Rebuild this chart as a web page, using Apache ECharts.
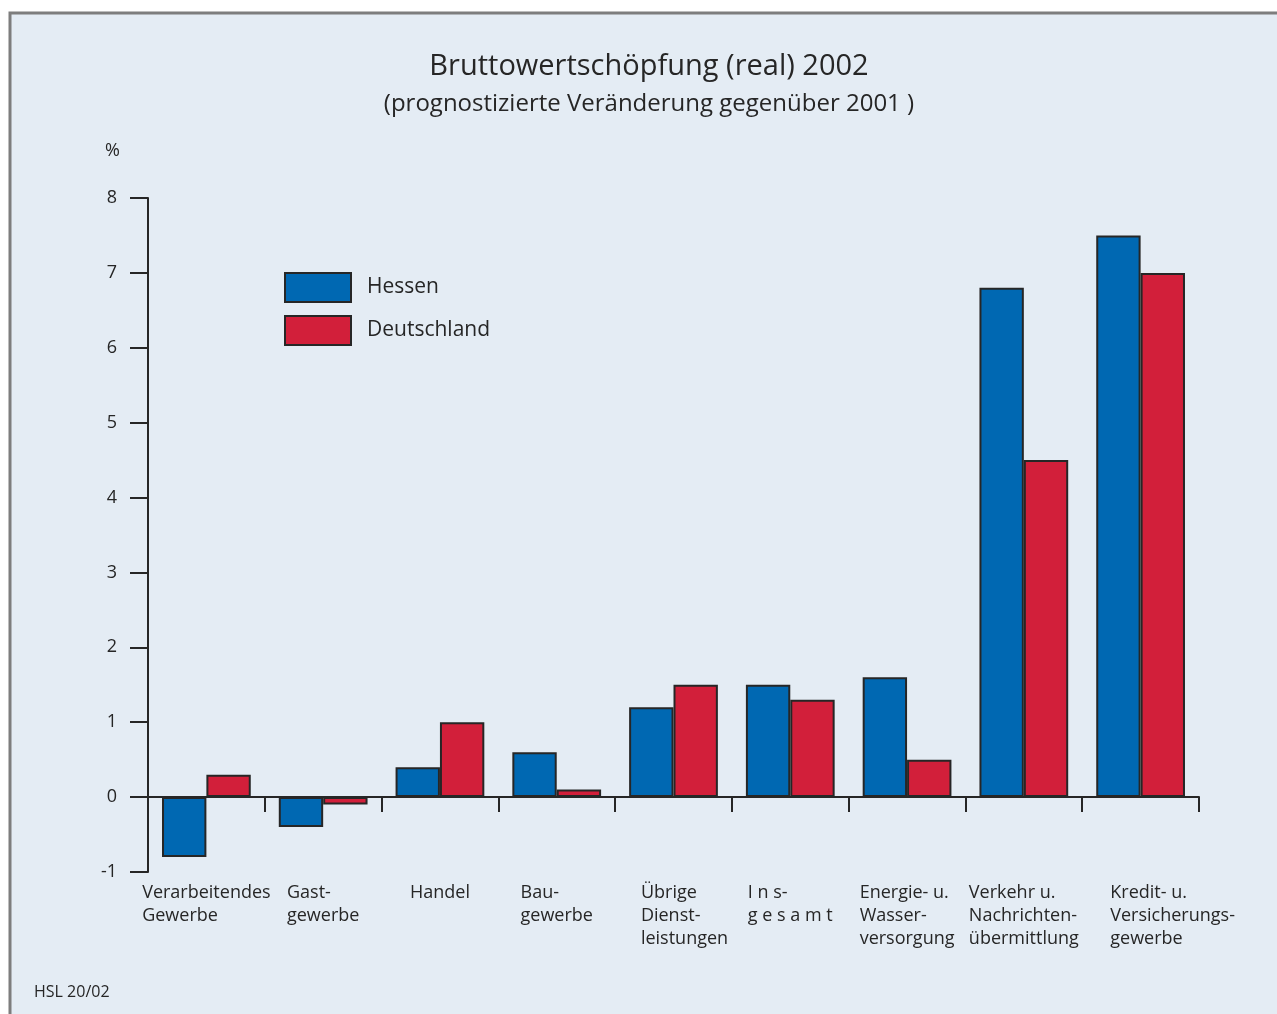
<!DOCTYPE html>
<html>
<head>
<meta charset="utf-8">
<title>Bruttowertschöpfung (real) 2002</title>
<script src="https://cdn.jsdelivr.net/npm/echarts@6/dist/echarts.min.js"></script>
<style>
  html, body { margin: 0; padding: 0; background: #ffffff; }
  #chart { width: 1277px; height: 1014px; }
</style>
</head>
<body>
<div id="chart"></div>
<script>
// Wirtschaftsbereiche (Zeilenumbrüche wie in der Beschriftung)
const categories = [
  'Verarbeitendes\nGewerbe',
  'Gast-\ngewerbe',
  'Handel',
  'Bau-\ngewerbe',
  'Übrige\nDienst-\nleistungen',
  'I n s-\ng e s a m t',
  'Energie- u.\nWasser-\nversorgung',
  'Verkehr u.\nNachrichten-\nübermittlung',
  'Kredit- u.\nVersicherungs-\ngewerbe'
];

// Prognostizierte Veränderung gegenüber 2001 in %
const hessen      = [-0.8, -0.4, 0.4, 0.6, 1.2, 1.5, 1.6, 6.8, 7.5];
const deutschland = [ 0.3, -0.1, 1.0, 0.1, 1.5, 1.3, 0.5, 4.5, 7.0];

const seriesNames = ['Hessen', 'Deutschland'];
const yTicks = { min: -1, max: 8, step: 1 };

const FONT = '"Open Sans", "Noto Sans", sans-serif';
const INK = '#262626';
const BLUE = '#0068b2';
const RED = '#d21f3a';

// Einzelne Beschriftungsblöcke etwas nach rechts rücken (linker Innenabstand in px)
const labelShift = { 4: 22, 8: 64 };
const categoryData = categories.map(function (c, i) {
  return labelShift[i]
    ? { value: c, textStyle: { padding: [0, 0, 0, labelShift[i]] } }
    : c;
});

const chart = echarts.init(document.getElementById('chart'));

chart.setOption({
  backgroundColor: '#ffffff',
  animation: false,
  textStyle: { fontFamily: FONT, color: INK },
  graphic: [
    {
      type: 'rect',
      z: -10,
      shape: { x: 10, y: 13, width: 1300, height: 1040 },
      style: { fill: '#e4ecf4', stroke: '#7d7d7d', lineWidth: 3 }
    },
    {
      type: 'text',
      left: 34,
      top: 984,
      style: { text: 'HSL 20/02', font: '16px ' + FONT, fill: INK }
    }
  ],
  title: [
    {
      text: 'Bruttowertschöpfung (real) 2002',
      left: 649,
      top: 52,
      padding: 0,
      textAlign: 'center',
      textStyle: { fontFamily: FONT, fontSize: 29, fontWeight: 'normal', color: INK }
    },
    {
      text: '(prognostizierte Veränderung gegenüber 2001 )',
      left: 649,
      top: 92,
      padding: 0,
      textAlign: 'center',
      textStyle: { fontFamily: FONT, fontSize: 24, fontWeight: 'normal', color: INK }
    }
  ],
  legend: {
    orient: 'vertical',
    left: 284,
    top: 272,
    padding: 0,
    itemWidth: 66,
    itemHeight: 29,
    itemGap: 12,
    icon: 'rect',
    data: seriesNames,
    textStyle: { fontFamily: FONT, fontSize: 21, color: INK, padding: [0, 0, 0, 11] }
  },
  grid: { left: 148, right: 78, top: 198, bottom: 142, containLabel: false, outerBoundsMode: 'none' },
  xAxis: {
    type: 'category',
    data: categoryData,
    boundaryGap: true,
    axisLine: { onZero: true, lineStyle: { color: INK, width: 2 } },
    axisTick: { show: true, interval: 0, length: 15, lineStyle: { color: INK, width: 2 } },
    axisLabel: {
      interval: 0,
      margin: 9,
      align: 'center',
      hideOverlap: false,
      formatter: function (v) {
        return v.split('\n').map(function (l) { return '{a|' + l + '}'; }).join('\n');
      },
      rich: { a: { fontFamily: FONT, fontSize: 18, lineHeight: 23, color: INK, align: 'left' } }
    },
    splitLine: { show: false }
  },
  yAxis: {
    type: 'value',
    min: yTicks.min,
    max: yTicks.max,
    interval: yTicks.step,
    name: '%',
    nameLocation: 'end',
    nameGap: 38,
    nameMoveOverlap: false,
    nameTextStyle: { fontFamily: FONT, fontSize: 18, color: INK, align: 'right', padding: [0, 28, 0, 0] },
    axisLine: { show: true, onZero: false, lineStyle: { color: INK, width: 2 } },
    axisTick: { show: true, length: 18, lineStyle: { color: INK, width: 2 } },
    axisLabel: { margin: 31, fontFamily: FONT, fontSize: 18, color: INK },
    splitLine: { show: false }
  },
  series: [
    {
      name: seriesNames[0],
      type: 'bar',
      data: hessen,
      barGap: '0%',
      barCategoryGap: '24%',
      itemStyle: { color: BLUE, borderColor: INK, borderWidth: 2 }
    },
    {
      name: seriesNames[1],
      type: 'bar',
      data: deutschland,
      itemStyle: { color: RED, borderColor: INK, borderWidth: 2 }
    }
  ]
});
</script>
</body>
</html>
